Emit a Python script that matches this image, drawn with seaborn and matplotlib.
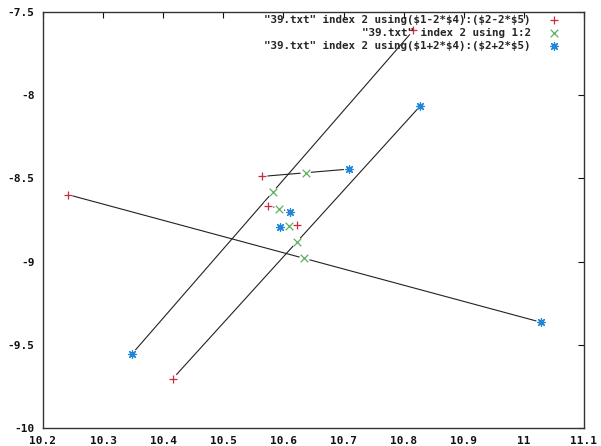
import matplotlib
matplotlib.use("Agg")
import matplotlib.pyplot as plt
from matplotlib.ticker import FuncFormatter
import seaborn as sns
import pandas as pd

# columns of "39.txt", index 2: x, y, dx ($4), dy ($5)
col_x = [10.635, 10.582, 10.622, 10.637, 10.593, 10.609]
col_y = [-8.981, -8.583, -8.883, -8.466, -8.682, -8.786]
col_dx = [0.197, -0.117, 0.103, 0.036, 0.009, -0.007]
col_dy = [-0.192, -0.486, 0.410, 0.011, -0.009, -0.003]

label_lo = r'"39.txt" index 2 using(\$1-2*\$4):(\$2-2*\$5)'
label_mid = '"39.txt" index 2 using 1:2'
label_hi = r'"39.txt" index 2 using(\$1+2*\$4):(\$2+2*\$5)'

x_ticks = [10.2, 10.3, 10.4, 10.5, 10.6, 10.7, 10.8, 10.9, 11.0, 11.1]
y_ticks = [-10.0, -9.5, -9.0, -8.5, -8.0, -7.5]

df = pd.DataFrame({"x": col_x, "y": col_y, "dx": col_dx, "dy": col_dy})
lo = pd.DataFrame({"x": df.x - 2 * df.dx, "y": df.y - 2 * df.dy})
hi = pd.DataFrame({"x": df.x + 2 * df.dx, "y": df.y + 2 * df.dy})

sns.set_style("white")
plt.rcParams["font.family"] = ["DejaVu Sans Mono", "DejaVu Sans"]
plt.rcParams["font.weight"] = "bold"

fig = plt.figure(figsize=(6.01, 4.46), dpi=100)
ax = fig.add_axes([43 / 601, 18 / 446, 541 / 601, 416 / 446])

red, green, blue = "#cc2a3e", "#5cb05c", "#1f86dc"
ms = 30
asterisk = (8, 2, 0)

# segments joining each lower point to its upper point
for (x0, y0), (x1, y1) in zip(lo.values, hi.values):
    ax.plot([x0, x1], [y0, y1], color="#222222", lw=0.8, zorder=1,
            solid_capstyle="butt")

# small white clearing round every point
for d in (lo, df, hi):
    ax.scatter(d.x, d.y, s=55, color="white", edgecolors="none", zorder=2)

sns.scatterplot(data=lo, x="x", y="y", marker="+", color=red, s=ms,
                linewidth=0.9, ax=ax, label=label_lo, zorder=3)
sns.scatterplot(data=df, x="x", y="y", marker="x", color=green, s=ms,
                linewidth=0.9, ax=ax, label=label_mid, zorder=3)
sns.scatterplot(data=hi, x="x", y="y", marker=asterisk, color=blue, s=ms,
                linewidth=0.9, edgecolor=blue, ax=ax, label=label_hi,
                zorder=3)

ax.set_xlim(10.2, 11.1)
ax.set_ylim(-10, -7.5)
ax.set_xticks(x_ticks)
ax.set_yticks(y_ticks)
fmt = FuncFormatter(lambda v, p: f"{v:g}")
ax.xaxis.set_major_formatter(fmt)
ax.yaxis.set_major_formatter(fmt)
ax.set_xlabel("")
ax.set_ylabel("")
ax.tick_params(axis="both", direction="in", length=4, width=0.8,
               top=True, right=True, labelsize=8, colors="#111111",
               pad=6)
for lab in ax.get_xticklabels() + ax.get_yticklabels():
    lab.set_fontweight("bold")
for s in ax.spines.values():
    s.set_visible(True)
    s.set_color("#333333")
    s.set_linewidth(1.0)

leg = ax.legend(loc="upper right", bbox_to_anchor=(0.966, 1.0),
                markerfirst=False, frameon=False, fontsize=7.8,
                handlelength=1.5, handletextpad=1.4, labelspacing=0.25,
                borderpad=0.3, borderaxespad=0)
for t in leg.get_texts():
    t.set_fontweight("bold")

fig.savefig("out.png", dpi=100)
